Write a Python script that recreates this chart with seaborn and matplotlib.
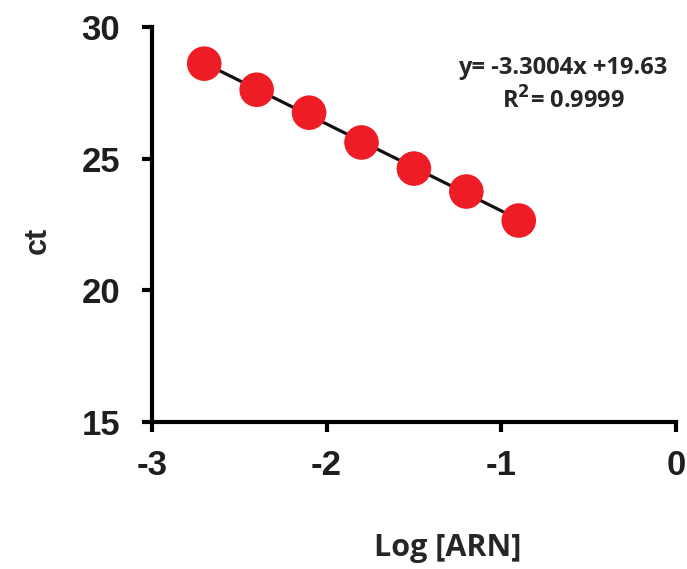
import numpy as np
import pandas as pd
import seaborn as sns
import matplotlib
matplotlib.use("Agg")
import matplotlib.pyplot as plt

log_arn = [-2.7, -2.4, -2.1, -1.8, -1.5, -1.2, -0.9]
ct = [28.60, 27.61, 26.74, 25.61, 24.62, 23.75, 22.65]
x_ticks = [-3, -2, -1, 0]
y_ticks = [15, 20, 25, 30]
equation = "y= -3.3004x +19.63"
r2_text = "R$^\\mathbf{2}$= 0.9999"

df = pd.DataFrame({"log_arn": log_arn, "ct": ct})

sns.set_theme(style="ticks")
plt.rcParams["font.family"] = ["Liberation Sans", "DejaVu Sans"]

fig = plt.figure(figsize=(6.87, 5.69), dpi=100)
ax = fig.add_axes([0.221, 0.258, 0.763, 0.695])

sns.regplot(data=df, x="log_arn", y="ct", ax=ax, ci=None, truncate=True,
            scatter_kws=dict(s=620, color="#ee1c25", edgecolor="none", alpha=1, zorder=3),
            line_kws=dict(color="#111111", lw=2.3, zorder=2))

ax.set_xlim(-3, 0)
ax.set_ylim(15, 30)
ax.set_xticks(x_ticks)
ax.set_yticks(y_ticks)
ax.set_xticklabels([str(t) for t in x_ticks])
ax.set_yticklabels([str(t) for t in y_ticks])
ax.tick_params(axis="both", direction="out", length=7, width=3, labelsize=25,
               color="black", labelcolor="#1e1e1e")
ax.tick_params(axis="y", pad=16)
ax.tick_params(axis="x", pad=12)
for s in ["top", "right"]:
    ax.spines[s].set_visible(False)
for s in ["left", "bottom"]:
    ax.spines[s].set_linewidth(3)
    ax.spines[s].set_color("black")
for lbl in ax.get_xticklabels() + ax.get_yticklabels():
    lbl.set_fontweight("bold")

ax.set_xlabel("")
ax.set_ylabel("")
fig.text(448 / 687, 1 - 548 / 569, "Log [ARN]", ha="center", va="center",
         fontsize=22, fontweight="bold", family=["Open Sans", "DejaVu Sans"])
fig.text(38 / 687, 1 - 240 / 569, "ct", ha="center", va="center", rotation=90,
         fontsize=22, fontweight="bold", family=["Liberation Sans", "DejaVu Sans"])

fig.text(563 / 687, 1 - 68 / 569, equation, ha="center", va="center",
         fontsize=17, fontweight="bold", family=["Open Sans", "DejaVu Sans"])
fig.text(563 / 687, 1 - 101 / 569, r2_text, ha="center", va="center",
         fontsize=17, fontweight="bold", family=["Open Sans", "DejaVu Sans"])

fig.savefig("out.png", dpi=100)
